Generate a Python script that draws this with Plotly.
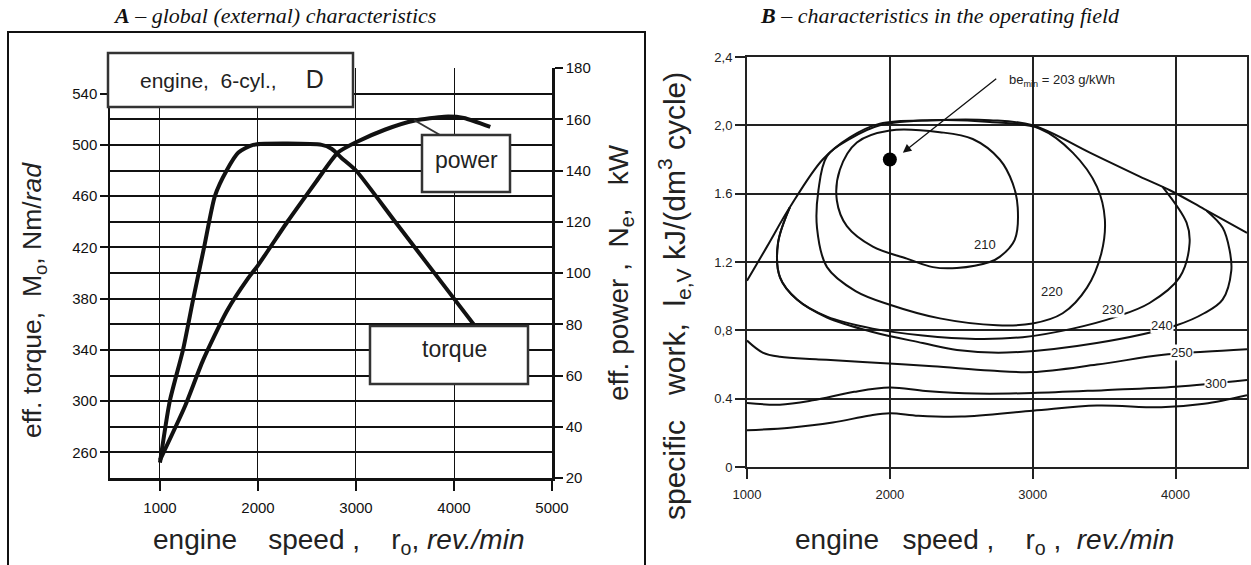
import plotly.graph_objects as go

W, H = 1251, 565


def px(x):
    return x / W


def py(y):
    return 1 - y / H


# ---------------- Panel A data ----------------
speed_torque = [1000, 1100, 1235, 1340, 1450, 1560, 1680, 1800, 1950, 2650, 2750, 2850, 3000, 3400, 4000, 4370]
torque_nm = [252, 300, 340, 380, 420, 460, 480, 494, 500, 500, 497, 490, 480, 440, 380, 343]
speed_power = [1000, 1255, 1440, 1680, 1900, 2000, 2300, 2430, 2600, 2816, 3000, 3300, 3600, 3900, 4100, 4370]
power_kw = [27, 48, 66, 85, 98, 103, 120, 127, 136, 147, 151, 156, 159.5, 161, 160.5, 157]
speed_ticks_A = [1000, 2000, 3000, 4000, 5000]
torque_ticks = [260, 300, 340, 380, 420, 460, 500, 540]
torque_minor = [240, 280, 320, 360, 400, 440, 480, 520, 560]
power_ticks = [20, 40, 60, 80, 100, 120, 140, 160, 180]

# ---------------- Panel B data ----------------
env_rpm = [1000, 1140, 1300, 1530, 1720, 1930, 2300, 2700, 3000, 3400, 3750, 3960, 4200, 4500]
env_work = [1.09, 1.29, 1.52, 1.80, 1.93, 2.01, 2.03, 2.03, 2.00, 1.84, 1.70, 1.62, 1.51, 1.37]

iso210_rpm = [1629, 1650, 1769, 2000, 2350, 2580, 2769, 2860, 2895, 2874, 2769, 2699, 2469, 2301, 2119, 1881, 1699, 1629]
iso210_work = [1.56, 1.74, 1.90, 1.97, 1.96, 1.92, 1.80, 1.66, 1.52, 1.33, 1.23, 1.20, 1.165, 1.17, 1.22, 1.29, 1.41, 1.56]

iso220_rpm = [1560, 1500, 1490, 1560, 1760, 2000, 2350, 2750, 3000, 3210, 3380, 3480, 3505, 3450, 3280, 3050, 2700, 2300, 1930, 1720, 1560]
iso220_work = [1.82, 1.62, 1.40, 1.17, 1.03, 0.95, 0.87, 0.83, 0.84, 0.90, 1.05, 1.25, 1.45, 1.64, 1.84, 1.98, 2.02, 2.03, 2.00, 1.92, 1.82]

iso230_rpm = [1300, 1217, 1231, 1350, 1560, 1880, 2230, 2600, 2930, 3280, 3587, 3818, 4028, 4098, 4077, 3909]
iso230_work = [1.52, 1.31, 1.11, 0.98, 0.88, 0.81, 0.77, 0.75, 0.76, 0.81, 0.88, 0.96, 1.11, 1.31, 1.43, 1.64]

iso240_rpm = [1300, 1217, 1231, 1350, 1560, 1880, 2230, 2470, 2818, 3448, 4007, 4200, 4329, 4390, 4378, 4330, 4217]
iso240_work = [1.52, 1.31, 1.11, 0.98, 0.875, 0.79, 0.726, 0.685, 0.67, 0.726, 0.83, 0.90, 0.98, 1.15, 1.27, 1.40, 1.50]

iso250_rpm = [1000, 1110, 1230, 1500, 1810, 2300, 2700, 3000, 3450, 3900, 4200, 4500]
iso250_work = [0.74, 0.67, 0.645, 0.63, 0.615, 0.59, 0.565, 0.556, 0.60, 0.655, 0.675, 0.69]

iso300_rpm = [1000, 1230, 1460, 1750, 2000, 2250, 2600, 3000, 3500, 4000, 4500]
iso300_work = [0.375, 0.365, 0.39, 0.44, 0.465, 0.445, 0.43, 0.433, 0.45, 0.47, 0.51]

isolow_rpm = [1000, 1300, 1600, 1850, 2000, 2200, 2500, 3000, 3450, 3900, 4200, 4500]
isolow_work = [0.215, 0.23, 0.26, 0.30, 0.315, 0.30, 0.295, 0.33, 0.36, 0.35, 0.37, 0.42]

bemin_rpm = [2000]
bemin_work = [1.8]

speed_ticks_B = [1000, 2000, 3000, 4000]
work_ticks = [2.4, 2.0, 1.6, 1.2, 0.8, 0.4, 0]
work_ticktext = ["2,4", "2,0", "1.6", "1.2", "0,8", "0.4", "0"]
iso_levels = ["210", "220", "230", "240", "250", "300"]

NARROW = "Liberation Sans Narrow, Arial Narrow, Liberation Sans, sans-serif"
SANS = "Liberation Sans, Arial, sans-serif"
SERIF = "Liberation Serif, Times New Roman, serif"
INK = "#111111"

fig = go.Figure()

# Panel A curves
fig.add_trace(go.Scatter(x=speed_torque, y=torque_nm, mode="lines", xaxis="x", yaxis="y",
                         line=dict(color=INK, width=4, shape="spline", smoothing=0.6), hoverinfo="skip"))
fig.add_trace(go.Scatter(x=speed_power, y=power_kw, mode="lines", xaxis="x", yaxis="y2",
                         line=dict(color=INK, width=4, shape="spline", smoothing=0.6), hoverinfo="skip"))

# Panel B curves
for xs, ys in [(env_rpm, env_work), (iso210_rpm, iso210_work), (iso220_rpm, iso220_work),
               (iso230_rpm, iso230_work), (iso240_rpm, iso240_work), (iso250_rpm, iso250_work),
               (iso300_rpm, iso300_work), (isolow_rpm, isolow_work)]:
    fig.add_trace(go.Scatter(x=xs, y=ys, mode="lines", xaxis="x3", yaxis="y3",
                             line=dict(color=INK, width=2, shape="spline", smoothing=1.0), hoverinfo="skip"))
fig.add_trace(go.Scatter(x=bemin_rpm, y=bemin_work, mode="markers", xaxis="x3", yaxis="y3",
                         marker=dict(color="black", size=14, symbol="circle"), hoverinfo="skip"))

tickfontA = dict(family=NARROW, size=15, color=INK)
tickfontB = dict(family=NARROW, size=13, color="#222")

fig.update_layout(
    width=W, height=H, margin=dict(l=0, r=0, t=0, b=0, autoexpand=False),
    paper_bgcolor="white", plot_bgcolor="white", showlegend=False,
    xaxis=dict(domain=[px(110), px(552)], range=[490, 5000], anchor="y", automargin=False,
               tickmode="array", tickvals=speed_ticks_A, ticktext=[str(v) for v in speed_ticks_A],
               ticks="outside", ticklen=10, tickwidth=1.5, tickcolor=INK, ticklabelstandoff=4,
               showgrid=True, gridcolor=INK, gridwidth=1.2, zeroline=False,
               showline=True, linecolor=INK, linewidth=2.5, tickfont=tickfontA),
    yaxis=dict(domain=[py(478), py(68)], range=[240, 560], anchor="x", automargin=False,
               tickmode="array", tickvals=torque_ticks, ticktext=[str(v) for v in torque_ticks],
               ticks="outside", ticklen=8, tickwidth=1.5, tickcolor=INK,
               showgrid=True, gridcolor=INK, gridwidth=2, zeroline=False,
               minor=dict(tickvals=torque_minor, showgrid=True, gridcolor=INK, gridwidth=2, ticks=""),
               showline=True, linecolor=INK, linewidth=1.5, tickfont=tickfontA),
    yaxis2=dict(overlaying="y", side="right", anchor="x", range=[20, 180], automargin=False,
                tickmode="array", tickvals=power_ticks, ticktext=[str(v) for v in power_ticks],
                ticks="outside", ticklen=8, tickwidth=1.5, tickcolor=INK,
                showgrid=False, zeroline=False, showline=True, linecolor=INK, linewidth=2.5,
                tickfont=tickfontA),
    xaxis3=dict(domain=[px(747), px(1247)], range=[1000, 4500], anchor="y3", automargin=False,
                tickmode="array", tickvals=speed_ticks_B, ticktext=[str(v) for v in speed_ticks_B],
                ticks="outside", ticklen=10, tickwidth=1.5, tickcolor="#222", ticklabelstandoff=4,
                showgrid=True, gridcolor="#222", gridwidth=1.5, zeroline=False,
                showline=True, linecolor="#222", linewidth=2, mirror=True, tickfont=tickfontB),
    yaxis3=dict(domain=[py(467), py(57)], range=[0, 2.4], anchor="x3", automargin=False,
                tickmode="array", tickvals=work_ticks, ticktext=work_ticktext,
                ticks="outside", ticklen=10, tickwidth=1.5, tickcolor="#222",
                showgrid=True, gridcolor="#222", gridwidth=1.5, zeroline=False,
                showline=True, linecolor="#222", linewidth=2, mirror=True, tickfont=tickfontB),
)

shapes = []
# panel A frame
shapes.append(dict(type="path", xref="paper", yref="paper",
                   path=f"M {px(8)},{py(566)} L {px(8)},{py(32)} L {px(645)},{py(32)} L {px(645)},{py(566)}",
                   line=dict(color=INK, width=2)))
# text boxes in panel A
for (x0, y0, x1, y1) in [(108, 53, 353, 107), (422, 135, 510, 192), (370, 326, 528, 384)]:
    shapes.append(dict(type="rect", xref="paper", yref="paper", x0=px(x0), x1=px(x1), y0=py(y1), y1=py(y0),
                       line=dict(color="#333", width=2.5), fillcolor="white", layer="above"))
# callout from power box to the curve
shapes.append(dict(type="line", xref="paper", yref="paper", x0=px(440), y0=py(135), x1=px(414), y1=py(120),
                   line=dict(color="#333", width=2), layer="above"))
fig.update_layout(shapes=shapes)

NB = "\u00a0"
ann = []


def note(x, y, text, font, **kw):
    d = dict(xref="paper", yref="paper", x=px(x), y=py(y), showarrow=False, text=text, font=font,
             xanchor="center", yanchor="middle")
    d.update(kw)
    ann.append(d)


note(274, 15, "<b><i>A</i></b><i> – global (external) characteristics</i>",
     dict(family=SERIF, size=22, color=INK))
note(940, 15, "<b><i>B</i></b><i> – characteristics in the operating field</i>",
     dict(family=SERIF, size=22, color=INK))
# Panel A axis titles
note(34, 300, f"eff. torque,{NB} M<sub>o</sub>, Nm/<i>rad</i>",
     dict(family=SANS, size=26.5, color="#222"), textangle=-90)
note(620, 273, f"eff. power ,{NB} N<sub>e</sub>,{NB}{NB} kW",
     dict(family=SANS, size=28, color="#222"), textangle=-90)
note(338, 541, f"engine{NB}{NB}{NB} speed ,{NB}{NB}{NB} r<sub>o</sub>, <i>rev./min</i>",
     dict(family=SANS, size=28, color="#222"))
# box texts
note(232, 79, f"engine,{NB} 6-cyl.,{NB}{NB}{NB}{NB} <span style='font-size:25px'>D</span>",
     dict(family=SANS, size=21, color="#222"))
note(466, 160, "power", dict(family=SANS, size=23, color="#222"))
note(454, 349, "torque", dict(family=SANS, size=23, color="#222"))
# Panel B axis titles
note(674, 296, f"specific{NB}{NB} work,{NB} l<sub>e,V</sub> kJ/(dm<sup>3</sup> cycle)",
     dict(family=SANS, size=30, color="#222"), textangle=-90)
note(985, 541, f"engine{NB}{NB} speed ,{NB}{NB}{NB} r<sub>o</sub> ,{NB} <i>rev./min</i>",
     dict(family=SANS, size=28, color="#222"))

# iso-line labels
label_pos = [(2664, 1.30), (3133, 1.025), (3559, 0.92), (3902, 0.83), (4042, 0.673), (4280, 0.49)]
for lvl, (lx, ly) in zip(iso_levels, label_pos):
    ann.append(dict(xref="x3", yref="y3", x=lx, y=ly, showarrow=False, text=lvl,
                    xanchor="center", yanchor="middle", bgcolor="white", borderpad=0,
                    font=dict(family=NARROW, size=13, color="#222")))
# be_min arrow
ann.append(dict(xref="x3", yref="y3", x=2091, y=1.84, axref="x3", ayref="y3", ax=2755, ay=2.28,
                text="", showarrow=True, arrowhead=2, arrowsize=1.3, arrowwidth=1.3, arrowcolor=INK))
ann.append(dict(xref="x3", yref="y3", x=2818, y=2.26, xanchor="left", yanchor="middle", showarrow=False,
                text="be<sub>min</sub> = 203 g/kWh",
                font=dict(family=NARROW, size=13, color="#222")))
fig.update_layout(annotations=ann)

fig.write_html("out.html")
